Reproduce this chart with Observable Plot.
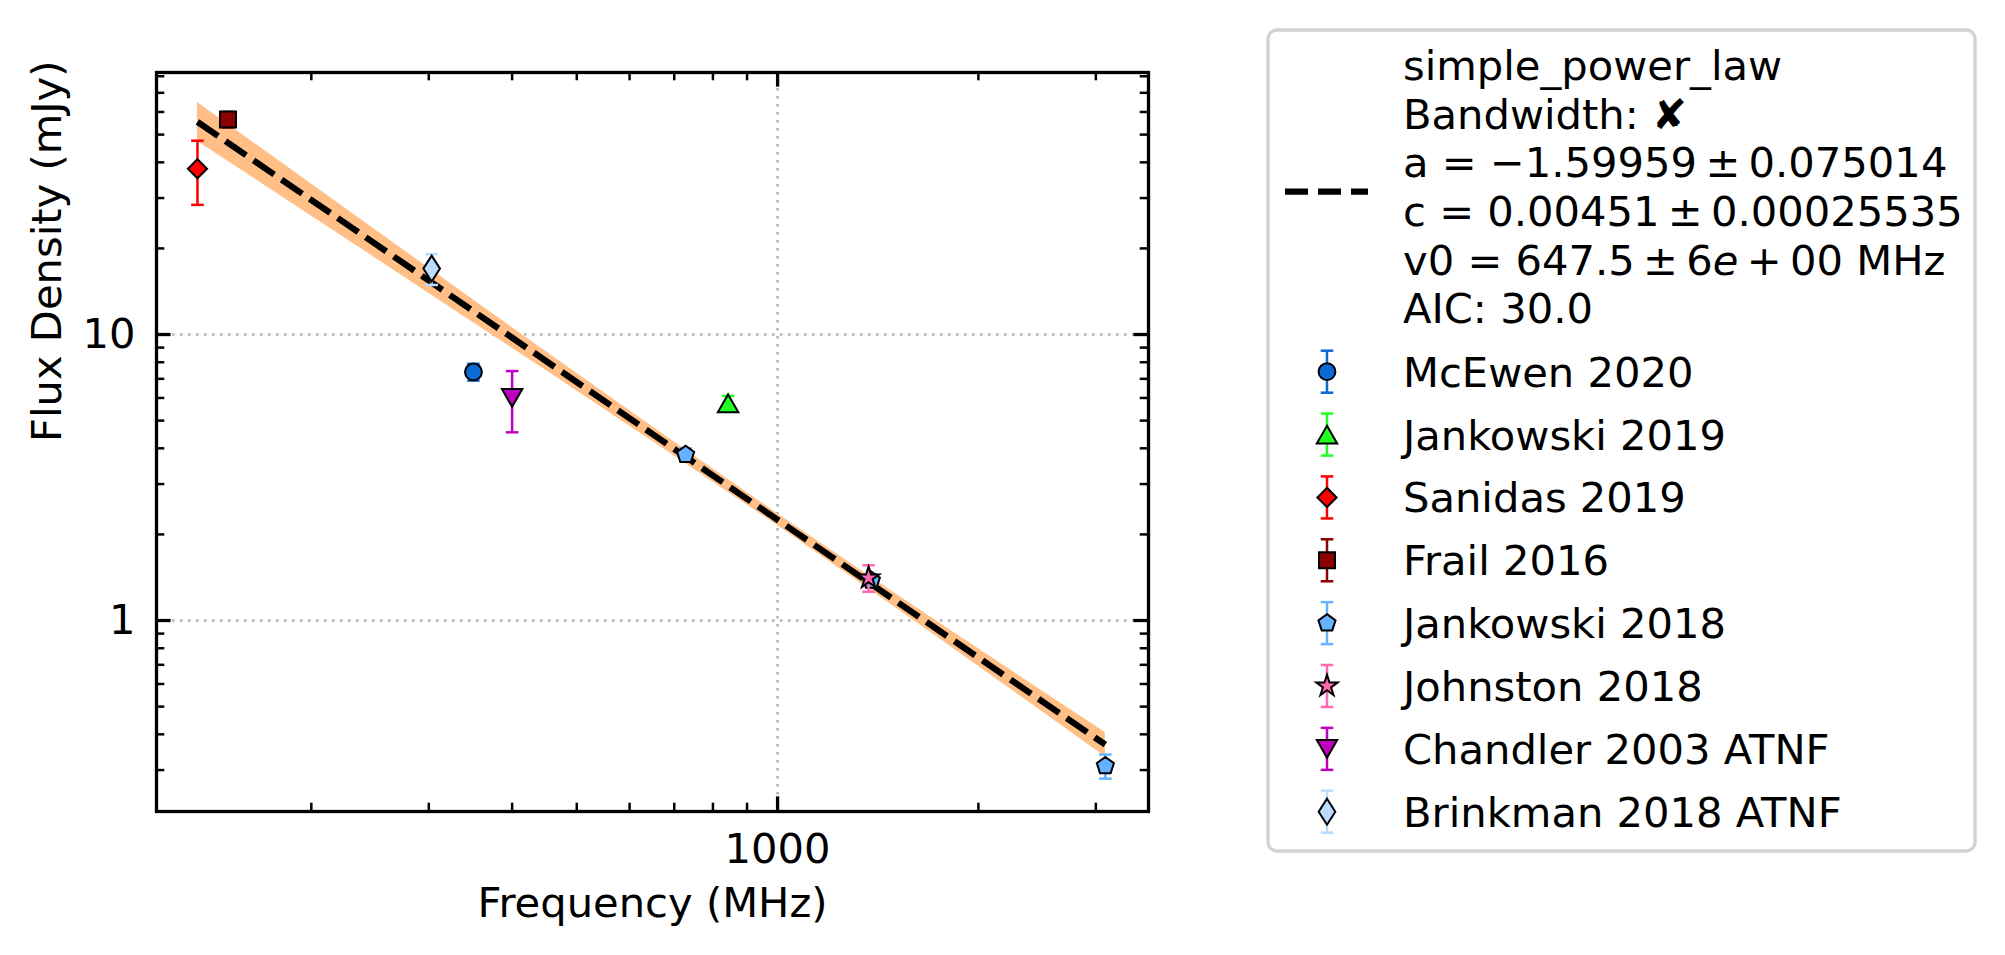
<!DOCTYPE html>
<html><head><meta charset="utf-8">
<script src="https://cdn.jsdelivr.net/npm/d3@7"></script>
<script src="https://cdn.jsdelivr.net/npm/@observablehq/plot@0.6"></script>
<style>html,body{margin:0;padding:0;background:#fff;overflow:hidden}</style>
</head><body><div id="chart"></div>
<script>
// ---------- data ----------
const seriesNames = ["McEwen 2020","Jankowski 2019","Sanidas 2019","Frail 2016","Jankowski 2018","Johnston 2018","Chandler 2003 ATNF","Brinkman 2018 ATNF"];
const seriesColors = ["#0b6bd6","#22ff22","#ff0000","#8b0000","#66b2ff","#ff69b4","#bf00bf","#bbdcff"];

const pointSeries = ["McEwen 2020","Jankowski 2019","Sanidas 2019","Frail 2016","Jankowski 2018","Jankowski 2018","Jankowski 2018","Johnston 2018","Chandler 2003 ATNF","Brinkman 2018 ATNF"];
const pointFreq   = [350, 843, 135, 150, 728, 1382, 3100, 1369, 400, 303];
const pointFlux   = [7.4, 5.75, 38.0, 56.5, 3.8, 1.38, 0.31, 1.41, 6.0, 17.0];
const pointErr    = [0.5, 0.35, 9.6, 3.5, 0.2, 0.07, 0.03, 0.15, 1.45, 2.1];

const fitFreq = [135, 3100];
const fitFlux = [55.4, 0.368];

const bandFreq = [135, 180, 250, 350, 450, 650, 1000, 1400, 1800, 2400, 3100];
const bandLo   = [47.4, 30.5, 18.45, 11.0, 7.48, 4.23, 2.15, 1.245, 0.824, 0.512, 0.334];
const bandHi   = [64.8, 40.1, 23.16, 13.2, 8.71, 4.75, 2.36, 1.386, 0.938, 0.601, 0.406];

const xMajorTicks = [1000];
const xMinorTicks = [200,300,400,500,600,700,800,900,2000,3000];
const yMajorTicks = [1, 10];
const yMinorTicks = [0.3,0.4,0.5,0.6,0.7,0.8,0.9,2,3,4,5,6,7,8,9,20,30,40,50,60,70,80];

const fitLegendLines = ["simple_power_law", "Bandwidth: \u2718", "a = \u22121.59959\u2009\u00b1\u20090.075014", "c = 0.00451\u2009\u00b1\u20090.00025535", "v0 = 647.5\u2009\u00b1\u20096e\u2009+\u200900 MHz", "AIC: 30.0"];
const xLabel = "Frequency (MHz)";
const yLabel = "Flux Density (mJy)";

// ---------- symbols ----------
function poly(pts){ return {draw(ctx, size){ const r = Math.sqrt(size/Math.PI); pts.forEach(([a,b],i)=> i? ctx.lineTo(a*r,b*r) : ctx.moveTo(a*r,b*r)); ctx.closePath(); }}; }
const symSquare = poly([[-1,-1],[1,-1],[1,1],[-1,1]]);
const symDiamond = poly([[0,-1],[1,0],[0,1],[-1,0]]);
const symThinDiamond = poly([[0,-1],[0.64,0],[0,1],[-0.64,0]]);
const symTriUp = poly([[0,-0.87],[1,0.87],[-1,0.87]]);
const symTriDown = poly([[0,0.87],[1,-0.87],[-1,-0.87]]);
const symPentagon = poly(d3.range(5).map(k=>{const a=-Math.PI/2+k*2*Math.PI/5; return [Math.cos(a),Math.sin(a)];}));
const symStar = poly(d3.range(10).map(k=>{const a=-Math.PI/2+k*Math.PI/5, rr = k%2?0.382:1; return [rr*Math.cos(a), rr*Math.sin(a)];}));
const symCap = {draw(ctx,size){const r=Math.sqrt(size/Math.PI); ctx.moveTo(-r,0); ctx.lineTo(r,0);}};
const seriesSymbols = [d3.symbolCircle, symTriUp, symDiamond, symSquare, symPentagon, symStar, symTriDown, symThinDiamond];
const seriesR = [8.4, 10.2, 9.6, 8.0, 9.0, 11.2, 10.2, 13];

// ---------- build ----------
const points = pointSeries.map((s,i)=>({series:s, freq:pointFreq[i], flux:pointFlux[i], err:pointErr[i]}));
const fit = fitFreq.map((f,i)=>({f, s:fitFlux[i]}));
const band = bandFreq.map((f,i)=>({f, lo:bandLo[i], hi:bandHi[i]}));

const W = 2005, H = 955, mL = 156, mR = 857, mT = 72, mB = 144;
const FW = W-mL-mR, FH = H-mT-mB;
const majLen = 14.6, minLen = 8.3;

const marks = [
  Plot.ruleX(xMajorTicks, {stroke:"#b0b0b0", strokeWidth:2.5, strokeDasharray:"2.5,5.5"}),
  Plot.ruleY(yMajorTicks, {stroke:"#b0b0b0", strokeWidth:2.5, strokeDasharray:"2.5,5.5"}),
  Plot.areaY(band, {x:"f", y1:"lo", y2:"hi", fill:"#ffbf86"}),
  Plot.line(fit, {x:"f", y:"s", stroke:"black", strokeWidth:6.25, strokeDasharray:"25,9", strokeLinecap:"butt"})
];
seriesNames.forEach((s,k)=>{
  const pts = points.filter(p=>p.series===s);
  const c = seriesColors[k];
  marks.push(Plot.ruleX(pts, {x:"freq", y1:d=>d.flux-d.err, y2:d=>d.flux+d.err, stroke:c, strokeWidth:2.5}));
  marks.push(Plot.dot(pts, {x:"freq", y:d=>d.flux+d.err, symbol:symCap, r:6.3, stroke:c, strokeWidth:2.5, fill:"none"}));
  marks.push(Plot.dot(pts, {x:"freq", y:d=>d.flux-d.err, symbol:symCap, r:6.3, stroke:c, strokeWidth:2.5, fill:"none"}));
  marks.push(Plot.dot(pts, {x:"freq", y:"flux", symbol:seriesSymbols[k], r:seriesR[k], fill:c, stroke:"black", strokeWidth:2}));
});
marks.push(
  Plot.ruleX(xMajorTicks, {insetTop:FH-majLen, strokeWidth:3.3}),
  Plot.ruleX(xMajorTicks, {insetBottom:FH-majLen, strokeWidth:3.3}),
  Plot.ruleX(xMinorTicks, {insetTop:FH-minLen, strokeWidth:2.5}),
  Plot.ruleX(xMinorTicks, {insetBottom:FH-minLen, strokeWidth:2.5}),
  Plot.ruleY(yMajorTicks, {insetRight:FW-majLen, strokeWidth:3.3}),
  Plot.ruleY(yMajorTicks, {insetLeft:FW-majLen, strokeWidth:3.3}),
  Plot.ruleY(yMinorTicks, {insetRight:FW-minLen, strokeWidth:2.5}),
  Plot.ruleY(yMinorTicks, {insetLeft:FW-minLen, strokeWidth:2.5}),
  Plot.frame({stroke:"black", strokeWidth:3.3}),
  Plot.axisX(xMajorTicks, {tickSize:0, tickPadding:22, label:null, tickFormat:d=>String(d)}),
  Plot.axisY(yMajorTicks, {tickSize:0, tickPadding:21, label:null, tickFormat:d=>String(d)}),
  Plot.text([xLabel], {frameAnchor:"bottom", dy:92, text:d=>d, lineAnchor:"middle"}),
  Plot.text([yLabel], {frameAnchor:"left", dx:-109, rotate:-90, text:d=>d, lineAnchor:"middle"})
);

const chart = Plot.plot({
  width:W, height:H, marginLeft:mL, marginRight:mR, marginTop:mT, marginBottom:mB,
  x:{type:"log", domain:[117.2, 3598]},
  y:{type:"log", domain:[0.2149, 82.44]},
  style:{fontFamily:"DejaVu Sans", fontSize:"41.67px", background:"white", color:"black", overflow:"visible"},
  marks
});
document.getElementById("chart").appendChild(chart);

// ---------- legend ----------
const svg = d3.select(chart);
const lg = svg.append("g").attr("font-family","DejaVu Sans").attr("font-size","41.67px").attr("fill","black").attr("text-anchor","start");
lg.append("rect").attr("x",1268).attr("y",30).attr("width",707).attr("height",821).attr("rx",9)
  .attr("fill","white").attr("stroke","#d2d2d2").attr("stroke-width",3.3);
lg.append("line").attr("x1",1285).attr("x2",1368).attr("y1",191.7).attr("y2",191.7)
  .attr("stroke","black").attr("stroke-width",6.25).attr("stroke-dasharray","23,10");
const titleBase = [80, 129, 177, 226, 275, 323];
fitLegendLines.forEach((t,i)=>{
  const tx = lg.append("text").attr("x",1403).attr("y",titleBase[i]).attr("text-anchor","start");
  const m = t.match(/^(.*\d)(e)(\u2009\+.*)$/);
  if (m) { tx.append("tspan").text(m[1]); tx.append("tspan").attr("font-style","italic").text(m[2]); tx.append("tspan").text(m[3]); }
  else tx.text(t);
});
seriesNames.forEach((s,k)=>{
  const base = 386.7 + k*62.86, cy = base-15, cx = 1327, c = seriesColors[k];
  lg.append("line").attr("x1",cx).attr("x2",cx).attr("y1",cy-21).attr("y2",cy+21).attr("stroke",c).attr("stroke-width",2.5);
  [-21,21].forEach(o=>lg.append("line").attr("x1",cx-6.3).attr("x2",cx+6.3).attr("y1",cy+o).attr("y2",cy+o).attr("stroke",c).attr("stroke-width",2.5));
  lg.append("path").attr("transform",`translate(${cx},${cy})`).attr("d", d3.symbol(seriesSymbols[k], Math.PI*seriesR[k]*seriesR[k])())
    .attr("fill",c).attr("stroke","black").attr("stroke-width",2);
  lg.append("text").attr("x",1403).attr("y",base).attr("text-anchor","start").text(s);
});
</script></body></html>
